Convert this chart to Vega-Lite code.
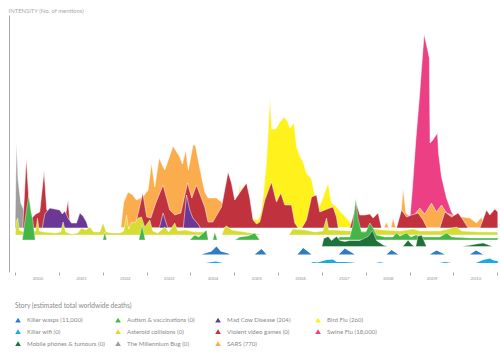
{
  "$schema": "https://vega.github.io/schema/vega-lite/v6.json",
  "width": 489,
  "height": 257,
  "autosize": {"type": "none"},
  "padding": {"left": 9, "top": 15, "right": 2, "bottom": 81},
  "config": {
    "view": {"stroke": null},
    "font": "Lato",
    "legend": {
      "orient": "none",
      "legendX": 6,
      "legendY": 288,
      "columns": 4,
      "gridAlign": "all",
      "columnPadding": 10,
      "rowPadding": 5,
      "symbolType": "triangle-up",
      "symbolSize": 32,
      "symbolStrokeWidth": 0,
      "labelFontSize": 6.1,
      "labelColor": "#8a8a8a",
      "labelOffset": 6,
      "labelLimit": 200,
      "titleFontSize": 6.6,
      "titleColor": "#8a8a8a",
      "titleFontWeight": "normal",
      "titlePadding": 7
    }
  },
  "datasets": {
    "swine": [
      {"t": 2008.961, "v": 0}, {"t": 2009.007, "v": 8}, {"t": 2009.068, "v": 41}, {"t": 2009.144, "v": 88},
      {"t": 2009.224, "v": 130}, {"t": 2009.333, "v": 194}, {"t": 2009.425, "v": 176}, {"t": 2009.452, "v": 170},
      {"t": 2009.47, "v": 85}, {"t": 2009.532, "v": 88}, {"t": 2009.639, "v": 95}, {"t": 2009.662, "v": 75},
      {"t": 2009.731, "v": 51}, {"t": 2009.845, "v": 30}, {"t": 2009.959, "v": 16}, {"t": 2010.034, "v": 11},
      {"t": 2010.148, "v": 3}, {"t": 2010.217, "v": 0}
    ],
    "bird": [
      {"t": 2005.034, "v": 0}, {"t": 2005.126, "v": 46}, {"t": 2005.183, "v": 25}, {"t": 2005.354, "v": 10},
      {"t": 2005.537, "v": 8}, {"t": 2005.605, "v": 15}, {"t": 2005.658, "v": 31}, {"t": 2005.731, "v": 65},
      {"t": 2005.765, "v": 90}, {"t": 2005.811, "v": 131}, {"t": 2005.856, "v": 99}, {"t": 2005.947, "v": 99},
      {"t": 2006.039, "v": 106}, {"t": 2006.137, "v": 111}, {"t": 2006.215, "v": 107}, {"t": 2006.267, "v": 100},
      {"t": 2006.365, "v": 105}, {"t": 2006.42, "v": 82}, {"t": 2006.495, "v": 72}, {"t": 2006.571, "v": 66},
      {"t": 2006.648, "v": 55}, {"t": 2006.763, "v": 49}, {"t": 2006.838, "v": 33}, {"t": 2006.952, "v": 22},
      {"t": 2007.142, "v": 45}, {"t": 2007.219, "v": 25}, {"t": 2007.317, "v": 22}, {"t": 2007.409, "v": 17},
      {"t": 2007.562, "v": 10}, {"t": 2007.676, "v": 4}, {"t": 2007.728, "v": 0}
    ],
    "y2k": [
      {"t": 1999.995, "v": 0}, {"t": 2000.027, "v": 87}, {"t": 2000.064, "v": 48}, {"t": 2000.126, "v": 25},
      {"t": 2000.217, "v": 16}, {"t": 2000.37, "v": 10}, {"t": 2000.521, "v": 3}, {"t": 2000.635, "v": 0}
    ],
    "sars": [
      {"t": 2002.409, "v": 0}, {"t": 2002.477, "v": 26}, {"t": 2002.575, "v": 36}, {"t": 2002.683, "v": 33},
      {"t": 2002.767, "v": 28}, {"t": 2002.911, "v": 31}, {"t": 2003.032, "v": 38}, {"t": 2003.11, "v": 65},
      {"t": 2003.185, "v": 41}, {"t": 2003.283, "v": 70}, {"t": 2003.413, "v": 58}, {"t": 2003.603, "v": 82},
      {"t": 2003.756, "v": 71}, {"t": 2003.817, "v": 64}, {"t": 2003.893, "v": 78}, {"t": 2003.95, "v": 58},
      {"t": 2004.059, "v": 83}, {"t": 2004.11, "v": 83}, {"t": 2004.212, "v": 60}, {"t": 2004.326, "v": 36},
      {"t": 2004.402, "v": 30}, {"t": 2004.594, "v": 30}, {"t": 2004.708, "v": 26}, {"t": 2004.822, "v": 18},
      {"t": 2004.897, "v": 0},
      {"t": 2008.413, "v": 0}, {"t": 2008.475, "v": 6}, {"t": 2008.527, "v": 0}, {"t": 2008.573, "v": 0},
      {"t": 2008.626, "v": 10}, {"t": 2008.687, "v": 0}, {"t": 2008.779, "v": 0}, {"t": 2008.854, "v": 40},
      {"t": 2008.916, "v": 15}, {"t": 2009.053, "v": 10}, {"t": 2009.144, "v": 15}, {"t": 2009.235, "v": 20},
      {"t": 2009.349, "v": 14}, {"t": 2009.502, "v": 25}, {"t": 2009.616, "v": 16}, {"t": 2009.731, "v": 23},
      {"t": 2009.845, "v": 15}, {"t": 2010.034, "v": 12}, {"t": 2010.217, "v": 11}, {"t": 2010.377, "v": 10},
      {"t": 2010.53, "v": 5}, {"t": 2010.644, "v": 11}, {"t": 2010.719, "v": 0}
    ],
    "violent": [
      {"t": 2000.171, "v": 0}, {"t": 2000.251, "v": 70}, {"t": 2000.32, "v": 22}, {"t": 2000.377, "v": 10},
      {"t": 2000.468, "v": 14}, {"t": 2000.559, "v": 16}, {"t": 2000.658, "v": 57}, {"t": 2000.719, "v": 18},
      {"t": 2000.833, "v": 16}, {"t": 2001.016, "v": 14}, {"t": 2001.153, "v": 14}, {"t": 2001.205, "v": 28},
      {"t": 2001.256, "v": 0},
      {"t": 2002.728, "v": 0}, {"t": 2002.911, "v": 35}, {"t": 2003.002, "v": 11}, {"t": 2003.094, "v": 10},
      {"t": 2003.208, "v": 25}, {"t": 2003.374, "v": 43}, {"t": 2003.527, "v": 18}, {"t": 2003.642, "v": 13},
      {"t": 2003.779, "v": 15}, {"t": 2003.932, "v": 45}, {"t": 2004.03, "v": 30}, {"t": 2004.137, "v": 43},
      {"t": 2004.326, "v": 21}, {"t": 2004.402, "v": 6}, {"t": 2004.509, "v": 6}, {"t": 2004.708, "v": 21},
      {"t": 2004.858, "v": 56}, {"t": 2004.936, "v": 45}, {"t": 2005.011, "v": 28}, {"t": 2005.164, "v": 38},
      {"t": 2005.279, "v": 45}, {"t": 2005.354, "v": 30}, {"t": 2005.429, "v": 8}, {"t": 2005.507, "v": 4},
      {"t": 2005.582, "v": 6}, {"t": 2005.696, "v": 28}, {"t": 2005.849, "v": 46}, {"t": 2005.963, "v": 26},
      {"t": 2006.062, "v": 35}, {"t": 2006.153, "v": 23}, {"t": 2006.306, "v": 23}, {"t": 2006.381, "v": 5},
      {"t": 2006.457, "v": 0},
      {"t": 2006.541, "v": 0}, {"t": 2006.648, "v": 8}, {"t": 2006.763, "v": 31}, {"t": 2006.877, "v": 33},
      {"t": 2006.952, "v": 16}, {"t": 2007.066, "v": 18}, {"t": 2007.18, "v": 20}, {"t": 2007.256, "v": 21},
      {"t": 2007.333, "v": 11}, {"t": 2007.374, "v": 0},
      {"t": 2007.637, "v": 0}, {"t": 2007.79, "v": 24}, {"t": 2007.865, "v": 13}, {"t": 2007.979, "v": 13},
      {"t": 2008.094, "v": 14}, {"t": 2008.169, "v": 10}, {"t": 2008.283, "v": 15}, {"t": 2008.361, "v": 0},
      {"t": 2008.703, "v": 0}, {"t": 2008.817, "v": 18}, {"t": 2008.932, "v": 11}, {"t": 2009.046, "v": 13},
      {"t": 2009.196, "v": 15}, {"t": 2009.311, "v": 8}, {"t": 2009.402, "v": 0},
      {"t": 2009.692, "v": 0}, {"t": 2009.806, "v": 16}, {"t": 2009.959, "v": 11}, {"t": 2010.11, "v": 15},
      {"t": 2010.224, "v": 8}, {"t": 2010.338, "v": 0},
      {"t": 2010.605, "v": 0}, {"t": 2010.758, "v": 18}, {"t": 2010.833, "v": 13}, {"t": 2010.947, "v": 19},
      {"t": 2011.016, "v": 16}
    ],
    "madcow": [
      {"t": 2000.616, "v": 0}, {"t": 2000.674, "v": 14}, {"t": 2000.788, "v": 20}, {"t": 2000.902, "v": 19},
      {"t": 2001.016, "v": 18}, {"t": 2001.073, "v": 14}, {"t": 2001.13, "v": 17}, {"t": 2001.205, "v": 10},
      {"t": 2001.283, "v": 5}, {"t": 2001.397, "v": 5}, {"t": 2001.473, "v": 15}, {"t": 2001.548, "v": 12},
      {"t": 2001.626, "v": 6}, {"t": 2001.667, "v": 0},
      {"t": 2003.288, "v": 0}, {"t": 2003.374, "v": 15}, {"t": 2003.482, "v": 0}, {"t": 2003.836, "v": 0},
      {"t": 2003.909, "v": 33}, {"t": 2003.984, "v": 18}, {"t": 2004.053, "v": 10}, {"t": 2004.174, "v": 4},
      {"t": 2004.224, "v": 0}
    ],
    "asteroid": [
      {"t": 2000.0, "v": 0}, {"t": 2000.023, "v": 14}, {"t": 2000.057, "v": 17}, {"t": 2000.091, "v": 5},
      {"t": 2000.194, "v": 3}, {"t": 2000.331, "v": 3}, {"t": 2000.468, "v": 4}, {"t": 2000.507, "v": 17},
      {"t": 2000.548, "v": 4}, {"t": 2000.651, "v": 3}, {"t": 2000.902, "v": 2}, {"t": 2001.039, "v": 3},
      {"t": 2001.091, "v": 13}, {"t": 2001.153, "v": 3}, {"t": 2001.29, "v": 1}, {"t": 2001.427, "v": 2},
      {"t": 2001.511, "v": 7}, {"t": 2001.61, "v": 5}, {"t": 2001.701, "v": 8}, {"t": 2001.792, "v": 3},
      {"t": 2001.929, "v": 3}, {"t": 2002.005, "v": 12}, {"t": 2002.078, "v": 3}, {"t": 2002.203, "v": 2},
      {"t": 2002.386, "v": 2}, {"t": 2002.477, "v": 4}, {"t": 2002.539, "v": 20}, {"t": 2002.591, "v": 6},
      {"t": 2002.653, "v": 13}, {"t": 2002.728, "v": 12}, {"t": 2002.804, "v": 17}, {"t": 2002.881, "v": 18},
      {"t": 2002.957, "v": 8}, {"t": 2003.071, "v": 15}, {"t": 2003.139, "v": 4}, {"t": 2003.253, "v": 2},
      {"t": 2003.413, "v": 8}, {"t": 2003.505, "v": 3}, {"t": 2003.642, "v": 12}, {"t": 2003.71, "v": 4},
      {"t": 2003.87, "v": 5}, {"t": 2004.098, "v": 3}, {"t": 2004.281, "v": 3}, {"t": 2004.349, "v": 0},
      {"t": 2004.715, "v": 0}, {"t": 2004.783, "v": 8}, {"t": 2004.829, "v": 9}, {"t": 2004.936, "v": 5},
      {"t": 2005.24, "v": 3}, {"t": 2005.537, "v": 1}, {"t": 2005.628, "v": 0}, {"t": 2006.244, "v": 0},
      {"t": 2006.336, "v": 6}, {"t": 2006.61, "v": 5}, {"t": 2006.838, "v": 3}, {"t": 2007.021, "v": 4},
      {"t": 2007.105, "v": 17}, {"t": 2007.158, "v": 5}, {"t": 2007.295, "v": 5}, {"t": 2007.637, "v": 4},
      {"t": 2007.979, "v": 4}, {"t": 2008.208, "v": 6}, {"t": 2008.39, "v": 5}, {"t": 2008.779, "v": 4},
      {"t": 2009.082, "v": 6}, {"t": 2009.235, "v": 4}, {"t": 2009.692, "v": 4}, {"t": 2010.073, "v": 8},
      {"t": 2010.194, "v": 4}, {"t": 2010.605, "v": 3}, {"t": 2011.016, "v": 3}
    ],
    "autism": [
      {"t": 2000.16, "v": 0}, {"t": 2000.24, "v": 25}, {"t": 2000.308, "v": 45}, {"t": 2000.354, "v": 30},
      {"t": 2000.4, "v": 20}, {"t": 2000.457, "v": 0},
      {"t": 2001.998, "v": 0}, {"t": 2002.043, "v": 8}, {"t": 2002.089, "v": 0},
      {"t": 2002.82, "v": 0}, {"t": 2002.895, "v": 15}, {"t": 2002.968, "v": 0},
      {"t": 2003.984, "v": 0}, {"t": 2004.098, "v": 5}, {"t": 2004.19, "v": 3}, {"t": 2004.365, "v": 10},
      {"t": 2004.406, "v": 0}, {"t": 2004.509, "v": 0}, {"t": 2004.555, "v": 8}, {"t": 2004.612, "v": 0},
      {"t": 2005.011, "v": 0}, {"t": 2005.126, "v": 3}, {"t": 2005.308, "v": 4}, {"t": 2005.468, "v": 7},
      {"t": 2005.582, "v": 0},
      {"t": 2007.317, "v": 0}, {"t": 2007.409, "v": 3}, {"t": 2007.637, "v": 3}, {"t": 2007.706, "v": 15},
      {"t": 2007.774, "v": 42}, {"t": 2007.82, "v": 22}, {"t": 2007.904, "v": 8}, {"t": 2008.002, "v": 8},
      {"t": 2008.094, "v": 17}, {"t": 2008.169, "v": 12}, {"t": 2008.247, "v": 5}, {"t": 2008.436, "v": 3},
      {"t": 2008.619, "v": 3}, {"t": 2008.703, "v": 7}, {"t": 2008.779, "v": 4}, {"t": 2008.932, "v": 7},
      {"t": 2009.03, "v": 3}, {"t": 2009.144, "v": 5}, {"t": 2009.349, "v": 3}, {"t": 2009.692, "v": 3},
      {"t": 2009.845, "v": 7}, {"t": 2009.966, "v": 3}, {"t": 2010.377, "v": 2}, {"t": 2011.016, "v": 2}
    ],
    "mobile": [
      {"t": 2006.998, "v": 0}, {"t": 2007.043, "v": 8}, {"t": 2007.142, "v": 10}, {"t": 2007.219, "v": 6},
      {"t": 2007.333, "v": 10}, {"t": 2007.409, "v": 6}, {"t": 2007.523, "v": 5}, {"t": 2007.637, "v": 6},
      {"t": 2007.865, "v": 6}, {"t": 2008.055, "v": 10}, {"t": 2008.155, "v": 16}, {"t": 2008.247, "v": 6},
      {"t": 2008.397, "v": 1.5}, {"t": 2008.505, "v": 0}, {"t": 2008.847, "v": 0}, {"t": 2008.968, "v": 6.5},
      {"t": 2009.03, "v": 3}, {"t": 2009.11, "v": 0}, {"t": 2009.144, "v": 0}, {"t": 2009.189, "v": 10},
      {"t": 2009.274, "v": 11.5}, {"t": 2009.388, "v": 0}, {"t": 2010.194, "v": 0}, {"t": 2010.53, "v": 2.5},
      {"t": 2010.68, "v": 3.5}, {"t": 2010.902, "v": 0}
    ],
    "wasps": [
      {"t": 2004.251, "v": 0}, {"t": 2004.479, "v": 3}, {"t": 2004.594, "v": 8}, {"t": 2004.692, "v": 3},
      {"t": 2004.858, "v": 1}, {"t": 2004.897, "v": 0},
      {"t": 2005.468, "v": 0}, {"t": 2005.621, "v": 5.5}, {"t": 2005.735, "v": 0},
      {"t": 2006.443, "v": 0}, {"t": 2006.571, "v": 6.5}, {"t": 2006.763, "v": 0},
      {"t": 2007.386, "v": 0}, {"t": 2007.523, "v": 6}, {"t": 2007.751, "v": 0},
      {"t": 2008.475, "v": 0}, {"t": 2008.589, "v": 4.5}, {"t": 2008.74, "v": 0},
      {"t": 2009.463, "v": 0}, {"t": 2009.616, "v": 4}, {"t": 2009.806, "v": 0},
      {"t": 2010.377, "v": 0}, {"t": 2010.521, "v": 4}, {"t": 2010.68, "v": 0}
    ],
    "wifi": [
      {"t": 2004.349, "v": 0}, {"t": 2004.486, "v": 1}, {"t": 2004.578, "v": 1.5}, {"t": 2004.737, "v": 0},
      {"t": 2006.747, "v": 0}, {"t": 2006.799, "v": 1}, {"t": 2006.906, "v": 0.5}, {"t": 2007.021, "v": 2},
      {"t": 2007.105, "v": 3}, {"t": 2007.249, "v": 3.5}, {"t": 2007.34, "v": 1}, {"t": 2007.523, "v": 1},
      {"t": 2007.683, "v": 0.5}, {"t": 2007.774, "v": 0},
      {"t": 2008.231, "v": 0}, {"t": 2008.322, "v": 0.8}, {"t": 2008.436, "v": 0},
      {"t": 2009.692, "v": 0}, {"t": 2009.806, "v": 1}, {"t": 2009.966, "v": 0},
      {"t": 2010.514, "v": 0}, {"t": 2010.68, "v": 3}, {"t": 2010.833, "v": 4.5}, {"t": 2010.925, "v": 2.5},
      {"t": 2011.016, "v": 2}
    ]
  },
  "encoding": {
    "x": {
      "field": "t",
      "type": "quantitative",
      "scale": {"domain": [1999.857, 2011.02], "nice": false, "zero": false},
      "axis": {
        "title": null,
        "domain": false,
        "grid": false,
        "values": [2000, 2001, 2002, 2003, 2004, 2005, 2006, 2007, 2008, 2009, 2010, 2011],
        "format": "d",
        "labelExpr": "datum.value == 2011 ? '' : datum.label",
        "labelOffset": 22,
        "labelFontSize": 4.6,
        "labelColor": "#999999",
        "labelPadding": 0,
        "labelOverlap": false,
        "labelFlush": false,
        "tickSize": 3,
        "tickColor": "#aaaaaa",
        "tickWidth": 1
      }
    }
  },
  "layer": [
    {
      "data": {"name": "swine"},
      "mark": {"type": "area", "stroke": "white", "strokeWidth": 0.5},
      "encoding": {
        "y": {
          "field": "v", "type": "quantitative",
          "scale": {"domain": [-44, 213], "nice": false, "zero": false},
          "axis": {
            "domain": true, "domainColor": "#aaaaaa", "domainWidth": 1,
            "ticks": false, "labels": false, "grid": false,
            "title": "INTENSITY (No. of mentions)",
            "titleAngle": 0, "titleAlign": "left", "titleBaseline": "middle",
            "titleX": -1, "titleY": -5, "titleFontSize": 5.9,
            "titleColor": "#aaaaaa", "titleFontWeight": "normal"
          }
        },
        "y2": {"datum": 0},
        "color": {
          "datum": "Swine Flu (18,000)",
          "scale": {
            "domain": [
              "Killer wasps (11,000)", "Killer wifi (0)", "Mobile phones & tumours (0)",
              "Autism & vaccinations (0)", "Asteroid collisions (0)", "The Millennium Bug (0)",
              "Mad Cow Disease (204)", "Violent video games (0)", "SARS (770)",
              "Bird Flu (260)", "Swine Flu (18,000)"
            ],
            "range": [
              "#2f7cc0", "#18a9e6", "#21703a",
              "#44b649", "#d5dd33", "#9d9d9d",
              "#6b3995", "#c1323f", "#fbad4e",
              "#fff11c", "#ec3f84"
            ]
          },
          "legend": {"title": "Story (estimated total worldwide deaths)"}
        }
      }
    },
    {
      "data": {"name": "bird"},
      "mark": {"type": "area", "stroke": "white", "strokeWidth": 0.5},
      "encoding": {
        "y": {"field": "v", "type": "quantitative", "scale": {"domain": [-44, 213], "nice": false, "zero": false}, "axis": null},
        "y2": {"datum": 0},
        "color": {"datum": "Bird Flu (260)"}
      }
    },
    {
      "data": {"name": "y2k"},
      "mark": {"type": "area", "stroke": "white", "strokeWidth": 0.5},
      "encoding": {
        "y": {"field": "v", "type": "quantitative", "scale": {"domain": [-44, 213], "nice": false, "zero": false}, "axis": null},
        "y2": {"datum": 0},
        "color": {"datum": "The Millennium Bug (0)"}
      }
    },
    {
      "data": {"name": "sars"},
      "mark": {"type": "area", "stroke": "white", "strokeWidth": 0.5},
      "encoding": {
        "y": {"field": "v", "type": "quantitative", "scale": {"domain": [-44, 213], "nice": false, "zero": false}, "axis": null},
        "y2": {"datum": 0},
        "color": {"datum": "SARS (770)"}
      }
    },
    {
      "data": {"name": "violent"},
      "mark": {"type": "area", "stroke": "white", "strokeWidth": 0.5},
      "encoding": {
        "y": {"field": "v", "type": "quantitative", "scale": {"domain": [-44, 213], "nice": false, "zero": false}, "axis": null},
        "y2": {"datum": 0},
        "color": {"datum": "Violent video games (0)"}
      }
    },
    {
      "data": {"name": "madcow"},
      "mark": {"type": "area", "stroke": "white", "strokeWidth": 0.5},
      "encoding": {
        "y": {"field": "v", "type": "quantitative", "scale": {"domain": [-44, 213], "nice": false, "zero": false}, "axis": null},
        "y2": {"datum": 0},
        "color": {"datum": "Mad Cow Disease (204)"}
      }
    },
    {
      "data": {"name": "asteroid"},
      "mark": {"type": "area", "stroke": "white", "strokeWidth": 0.4},
      "encoding": {
        "y": {"field": "v", "type": "quantitative", "scale": {"domain": [-37, 220], "nice": false, "zero": false}, "axis": null},
        "y2": {"datum": 0},
        "color": {"datum": "Asteroid collisions (0)"}
      }
    },
    {
      "data": {"name": "autism"},
      "mark": {"type": "area", "stroke": "white", "strokeWidth": 0.4},
      "encoding": {
        "y": {"field": "v", "type": "quantitative", "scale": {"domain": [-32, 225], "nice": false, "zero": false}, "axis": null},
        "y2": {"datum": 0},
        "color": {"datum": "Autism & vaccinations (0)"}
      }
    },
    {
      "data": {"name": "mobile"},
      "mark": {"type": "area", "stroke": "white", "strokeWidth": 0.4},
      "encoding": {
        "y": {"field": "v", "type": "quantitative", "scale": {"domain": [-25.5, 231.5], "nice": false, "zero": false}, "axis": null},
        "y2": {"datum": 0},
        "color": {"datum": "Mobile phones & tumours (0)"}
      }
    },
    {
      "data": {"name": "wasps"},
      "mark": {"type": "area"},
      "encoding": {
        "y": {"field": "v", "type": "quantitative", "scale": {"domain": [-17.5, 239.5], "nice": false, "zero": false}, "axis": null},
        "y2": {"datum": 0},
        "color": {"datum": "Killer wasps (11,000)"}
      }
    },
    {
      "data": {"name": "wifi"},
      "mark": {"type": "area"},
      "encoding": {
        "y": {"field": "v", "type": "quantitative", "scale": {"domain": [-9, 248], "nice": false, "zero": false}, "axis": null},
        "y2": {"datum": 0},
        "color": {"datum": "Killer wifi (0)"}
      }
    },
    {
      "data": {"values": [{}]},
      "mark": {"type": "rule", "color": "#aaaaaa", "strokeWidth": 1},
      "encoding": {
        "x": {"datum": 2000},
        "x2": {"datum": 2011},
        "y": {"datum": -44, "type": "quantitative", "scale": {"domain": [-44, 213], "nice": false, "zero": false}, "axis": null}
      }
    },
    {
      "data": {"values": [{}]},
      "mark": {"type": "point", "shape": "triangle-up", "filled": true, "size": 14, "color": "#aaaaaa", "opacity": 1},
      "encoding": {
        "x": {"datum": 1999.857},
        "y": {"datum": 211, "type": "quantitative", "scale": {"domain": [-44, 213], "nice": false, "zero": false}, "axis": null}
      }
    },
    {
      "data": {"values": [{}]},
      "mark": {"type": "text", "text": "Scale by total deaths", "align": "right", "baseline": "middle", "fontSize": 5.4, "color": "#999999"},
      "encoding": {
        "x": {"datum": 2010.651},
        "y": {"datum": -62, "type": "quantitative", "scale": {"domain": [-44, 213], "nice": false, "zero": false}, "axis": null}
      }
    },
    {
      "data": {"values": [{}]},
      "mark": {"type": "text", "text": "Level patterns", "align": "right", "baseline": "middle", "fontSize": 5.4, "color": "#999999"},
      "encoding": {
        "x": {"datum": 2010.651},
        "y": {"datum": -72, "type": "quantitative", "scale": {"domain": [-44, 213], "nice": false, "zero": false}, "axis": null}
      }
    },
    {
      "data": {"values": [{}]},
      "mark": {"type": "rect", "fill": "white", "stroke": "#bbbbbb", "strokeWidth": 0.7},
      "encoding": {
        "x": {"datum": 2010.788},
        "x2": {"datum": 2010.993},
        "y": {"datum": -59.5, "type": "quantitative", "scale": {"domain": [-44, 213], "nice": false, "zero": false}, "axis": null},
        "y2": {"datum": -64.5}
      }
    },
    {
      "data": {"values": [{}]},
      "mark": {"type": "rect", "fill": "white", "stroke": "#bbbbbb", "strokeWidth": 0.7},
      "encoding": {
        "x": {"datum": 2010.788},
        "x2": {"datum": 2010.993},
        "y": {"datum": -69.5, "type": "quantitative", "scale": {"domain": [-44, 213], "nice": false, "zero": false}, "axis": null},
        "y2": {"datum": -74.5}
      }
    },
    {
      "data": {"values": [{}]},
      "mark": {"type": "rect", "fill": "#777777"},
      "encoding": {
        "x": {"datum": 2010.811},
        "x2": {"datum": 2010.868},
        "y": {"datum": -60.5, "type": "quantitative", "scale": {"domain": [-44, 213], "nice": false, "zero": false}, "axis": null},
        "y2": {"datum": -63.5}
      }
    },
    {
      "data": {"values": [{}]},
      "mark": {"type": "rect", "fill": "#777777"},
      "encoding": {
        "x": {"datum": 2010.811},
        "x2": {"datum": 2010.868},
        "y": {"datum": -70.5, "type": "quantitative", "scale": {"domain": [-44, 213], "nice": false, "zero": false}, "axis": null},
        "y2": {"datum": -73.5}
      }
    }
  ],
  "resolve": {"scale": {"y": "independent"}}
}
